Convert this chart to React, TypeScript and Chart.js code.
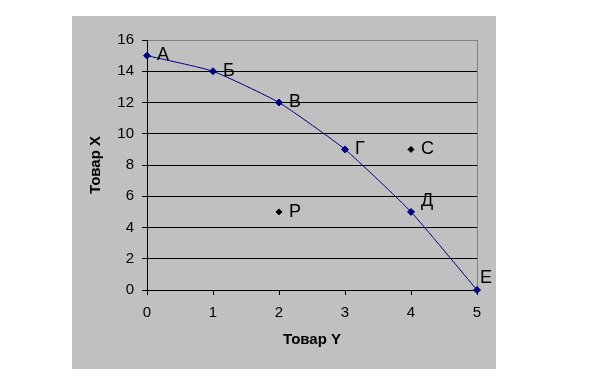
import React, { useEffect, useRef } from "react";
import { Chart, registerables } from "chart.js";

Chart.register(...registerables);

const curveX = [0, 1, 2, 3, 4, 5];
const curveY = [15, 14, 12, 9, 5, 0];
const curveLabels = ["А", "Б", "В", "Г", "Д", "Е"];

const extraX = [4, 2];
const extraY = [9, 5];
const extraLabels = ["С", "Р"];

const xTitle = "Товар Y";
const yTitle = "Товар X";

const FONT = "'Liberation Sans', Arial, sans-serif";

// label offsets (style only)
const labelOffsets: Record<string, [number, number]> = {
  "А": [10, -1],
  "Д": [10, -11],
  "Е": [3, -12],
};

const bgPlugin = {
  id: "bgPlugin",
  beforeDraw(chart: any) {
    const ctx = chart.ctx;
    ctx.save();
    ctx.fillStyle = "#ffffff";
    ctx.fillRect(0, 0, chart.width, chart.height);
    ctx.fillStyle = "#c0c0c0";
    ctx.fillRect(72, 16, 424, 353);
    ctx.restore();
  },
};

const labelPlugin = {
  id: "labelPlugin",
  afterDatasetsDraw(chart: any) {
    const ctx = chart.ctx;
    ctx.save();
    ctx.font = `18px ${FONT}`;
    ctx.fillStyle = "#000000";
    ctx.textAlign = "left";
    ctx.textBaseline = "middle";
    chart.data.datasets.forEach((ds: any, di: number) => {
      const meta = chart.getDatasetMeta(di);
      const labels: string[] = ds.pointLabels || [];
      meta.data.forEach((el: any, i: number) => {
        const lab = labels[i];
        if (!lab) return;
        const off = labelOffsets[lab] || [10, 0];
        ctx.fillText(lab, el.x + off[0], el.y + off[1]);
      });
    });
    ctx.restore();
  },
};

export default function App() {
  const ref = useRef<HTMLCanvasElement | null>(null);

  useEffect(() => {
    if (!ref.current) return;
    const chart = new Chart(ref.current, {
      type: "scatter",
      data: {
        datasets: [
          {
            data: curveX.map((x, i) => ({ x, y: curveY[i] })),
            pointLabels: curveLabels,
            showLine: true,
            borderColor: "#000080",
            borderWidth: 1,
            backgroundColor: "#000080",
            pointBackgroundColor: "#000080",
            pointBorderColor: "#000080",
            pointStyle: "rectRot",
            pointRadius: 3.5,
            pointBorderWidth: 1,
            tension: 0.15,
            clip: false,
          } as any,
          {
            data: extraX.map((x, i) => ({ x, y: extraY[i] })),
            pointLabels: extraLabels,
            showLine: false,
            backgroundColor: "#000000",
            pointBackgroundColor: "#000000",
            pointBorderColor: "#000000",
            pointStyle: "rectRot",
            pointRadius: 3,
            pointBorderWidth: 1,
            clip: false,
          } as any,
        ],
      },
      options: {
        animation: false,
        responsive: false,
        devicePixelRatio: 1,
        layout: { padding: { left: 72, top: 40, right: 136, bottom: 26 } },
        plugins: {
          legend: { display: false },
          tooltip: { enabled: false },
        },
        scales: {
          x: {
            type: "linear",
            min: 0,
            max: 5,
            afterFit: (s: any) => {
              s.height = 60;
            },
            ticks: {
              stepSize: 1,
              color: "#000000",
              padding: 9,
              font: { family: FONT, size: 15 },
              maxRotation: 0,
            },
            grid: {
              drawOnChartArea: true,
              drawTicks: true,
              tickLength: 5,
              color: (c: any) => (c.tick && c.tick.value === 5 ? "#808080" : "rgba(0,0,0,0)"),
              tickColor: "#000000",
              lineWidth: 1,
            },
            border: { display: true, color: "#000000", width: 1 },
            title: {
              display: true,
              text: xTitle,
              color: "#000000",
              font: { family: FONT, size: 15, weight: "bold" },
              padding: { top: 0, bottom: 1 },
            },
          },
          y: {
            type: "linear",
            min: 0,
            max: 16,
            afterFit: (s: any) => {
              s.width = 75;
            },
            ticks: {
              stepSize: 2,
              color: "#000000",
              padding: 8,
              font: { family: FONT, size: 15 },
            },
            grid: {
              drawOnChartArea: true,
              drawTicks: true,
              tickLength: 5,
              color: (c: any) => (c.tick && c.tick.value === 16 ? "#808080" : "#000000"),
              tickColor: "#000000",
              lineWidth: 1,
            },
            border: { display: true, color: "#000000", width: 1 },
            title: {
              display: true,
              text: yTitle,
              color: "#000000",
              font: { family: FONT, size: 15, weight: "bold" },
              padding: { top: 15, bottom: 0 },
            },
          },
        },
      } as any,
      plugins: [bgPlugin, labelPlugin],
    });
    return () => chart.destroy();
  }, []);

  return (
    <div style={{ position: "absolute", left: 0, top: 0, width: 613, height: 376 }}>
      <canvas ref={ref} width={613} height={376} style={{ display: "block" }} />
    </div>
  );
}
